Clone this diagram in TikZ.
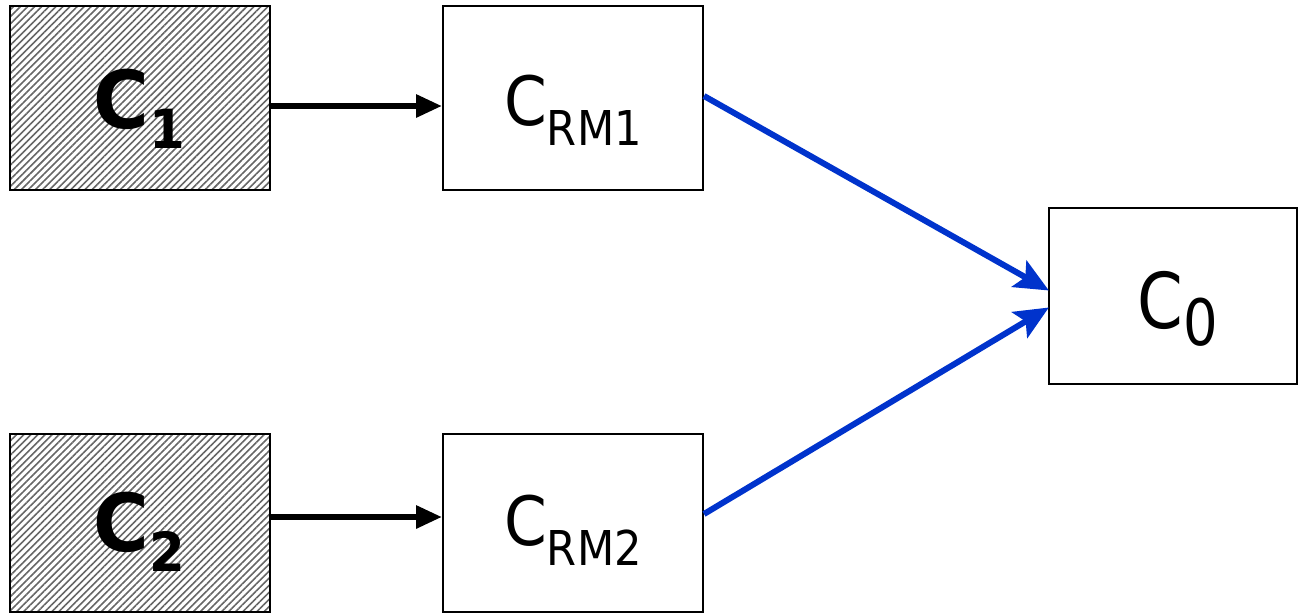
\documentclass[tikz,border=0pt]{standalone}
\usepackage{fontspec}
\setmainfont{DejaVu Sans}
\usetikzlibrary{arrows.meta,patterns.meta}
\definecolor{arrblue}{HTML}{0033CC}
\begin{document}
\begin{tikzpicture}[x=1pt,y=-1pt,
  box/.style={draw=black,line width=2pt,inner sep=0pt,minimum width=260pt},
  hatchbox/.style={box,pattern={Lines[angle=45,distance=5pt,line width=1.6pt]},pattern color=black!60},
  lbl/.style={anchor=base,inner sep=0pt},
  blk/.style={line width=6pt,-{Triangle[length=26pt,width=22pt]}},
  blu/.style={draw=arrblue,line width=6pt,-{Stealth[length=34pt,width=30pt,inset=7pt]},shorten >=-1pt}
]
\useasboundingbox (0,0) rectangle (1299,614);
\node[hatchbox,minimum height=184pt] (c1box) at (139.5,98) {};
\node[hatchbox,minimum height=178pt] (c2box) at (139.5,523) {};
\node[box,minimum height=184pt] (crm1) at (573,98) {};
\node[box,minimum height=178pt] (crm2) at (573,523) {};
\node[box,minimum width=248pt,minimum height=176pt] (c0) at (1173,296) {};
\node[lbl] (t1) at (139,128) {\scalebox{0.95}[1]{\fontsize{80}{80}\selectfont\bfseries C\raisebox{-20pt}{\fontsize{54}{54}\selectfont 1}}};
\node[lbl] (t2) at (139,551) {\scalebox{0.95}[1]{\fontsize{80}{80}\selectfont\bfseries C\raisebox{-20pt}{\fontsize{54}{54}\selectfont 2}}};
\node[lbl] (t3) at (573,125) {\scalebox{0.9}[1]{\fontsize{68}{68}\selectfont C\raisebox{-20pt}{\fontsize{48}{48}\selectfont RM1}}};
\node[lbl] (t4) at (573,545) {\scalebox{0.9}[1]{\fontsize{68}{68}\selectfont C\raisebox{-20pt}{\fontsize{48}{48}\selectfont RM2}}};
\node[lbl] (t5) at (1178,328) {\scalebox{0.85}[1]{\fontsize{77}{77}\selectfont C\raisebox{-17pt}{\fontsize{64}{64}\selectfont 0}}};
\draw[blk] ([yshift=-8pt]c1box.east) -- ([yshift=-8pt]crm1.west);
\draw[blk] ([yshift=6pt]c2box.east) -- ([yshift=6pt]crm2.west);
\draw[blu] ([yshift=2pt]crm1.east) -- ([yshift=6pt]c0.west);
\draw[blu] ([yshift=9pt]crm2.east) -- ([yshift=-12pt]c0.west);
\end{tikzpicture}
\end{document}
